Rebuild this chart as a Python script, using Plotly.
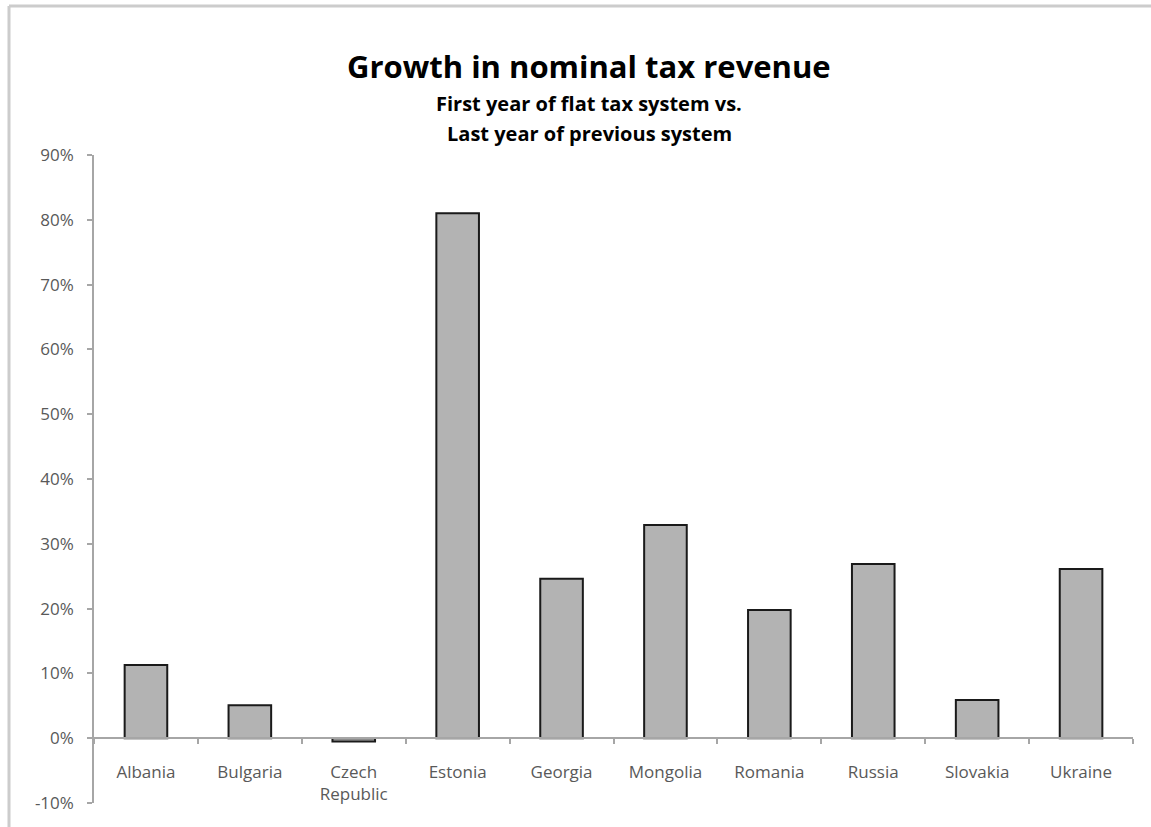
import plotly.graph_objects as go

# Data
countries = ["Albania", "Bulgaria", "Czech<br>Republic", "Estonia", "Georgia",
             "Mongolia", "Romania", "Russia", "Slovakia", "Ukraine"]
growth = [0.113, 0.051, -0.005, 0.810, 0.246, 0.329, 0.198, 0.269, 0.059, 0.261]

y_tick_vals = [-0.1, 0.0, 0.1, 0.2, 0.3, 0.4, 0.5, 0.6, 0.7, 0.8, 0.9]
y_tick_text = ["-10%", "0%", "10%", "20%", "30%", "40%", "50%", "60%", "70%", "80%", "90%"]

title = "Growth in nominal tax revenue"
subtitle_1 = "First year of flat tax system vs."
subtitle_2 = "Last year of previous system"

W, H = 1151, 827
ML, MR, MT, MB = 94, 18, 155, 24
PW, PH = W - ML - MR, H - MT - MB
Y_MIN, Y_MAX = -0.1, 0.9

def px_x(x):
    return (x - ML) / PW

def px_y(y):
    return (H - MB - y) / PH

FONT = "Open Sans"
AXIS_GREY = "#a6a6a6"
TICK_TEXT = "#595959"

fig = go.Figure(go.Bar(
    x=countries,
    y=growth,
    marker=dict(color="#b3b3b3", line=dict(color="#1a1a1a", width=2)),
    width=0.41,
))

zero_pos = (0 - Y_MIN) / (Y_MAX - Y_MIN)

fig.update_layout(
    width=W, height=H,
    margin=dict(l=ML, r=MR, t=MT, b=MB, pad=0),
    paper_bgcolor="white", plot_bgcolor="white",
    showlegend=False,
    font=dict(family=FONT, color=TICK_TEXT, size=17),
    xaxis=dict(
        type="category",
        anchor="free", position=zero_pos,
        showline=True, linecolor=AXIS_GREY, linewidth=1.5,
        ticks="outside", tickson="boundaries", ticklen=5, tickcolor=AXIS_GREY, tickwidth=1.5,
        ticklabelstandoff=19,
        showgrid=False, zeroline=False,
        tickfont=dict(family=FONT, size=17, color=TICK_TEXT),
        range=[-0.5, len(countries) - 0.5],
    ),
    yaxis=dict(
        range=[Y_MIN, Y_MAX],
        tickvals=y_tick_vals, ticktext=y_tick_text,
        showline=True, linecolor=AXIS_GREY, linewidth=1.5,
        ticks="outside", ticklen=5, tickcolor=AXIS_GREY, tickwidth=1.5,
        ticklabelstandoff=10,
        showgrid=False, zeroline=False,
        tickfont=dict(family=FONT, size=17, color=TICK_TEXT),
    ),
    annotations=[
        dict(text="<b>" + title + "</b>", xref="paper", yref="paper",
             x=px_x(589), y=px_y(66), showarrow=False,
             font=dict(family=FONT, size=31, color="black"),
             xanchor="center", yanchor="middle"),
        dict(text="<b>" + subtitle_1 + "</b>", xref="paper", yref="paper",
             x=px_x(589), y=px_y(103), showarrow=False,
             font=dict(family=FONT, size=20, color="black"),
             xanchor="center", yanchor="middle"),
        dict(text="<b>" + subtitle_2 + "</b>", xref="paper", yref="paper",
             x=px_x(589), y=px_y(133), showarrow=False,
             font=dict(family=FONT, size=20, color="black"),
             xanchor="center", yanchor="middle"),
    ],
    shapes=[
        # chart frame (top and left edges)
        dict(type="line", xref="paper", yref="paper",
             x0=px_x(9), x1=px_x(W + 5), y0=px_y(6), y1=px_y(6),
             line=dict(color="#cccccc", width=3)),
        dict(type="line", xref="paper", yref="paper",
             x0=px_x(9), x1=px_x(9), y0=px_y(6), y1=px_y(H + 5),
             line=dict(color="#cccccc", width=3)),
    ],
)

fig.write_html("out.html")
